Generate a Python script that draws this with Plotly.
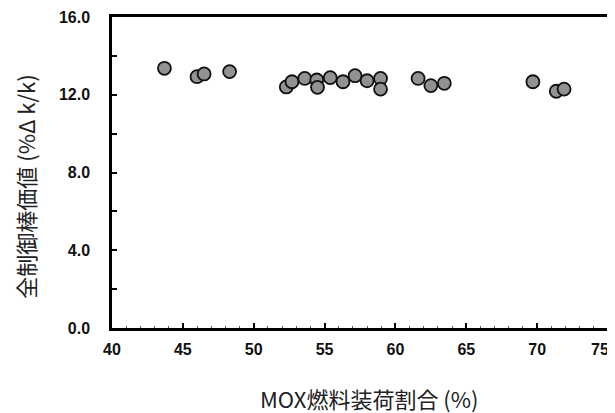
import plotly.graph_objects as go

mox_ratio = [43.7, 46.0, 46.5, 48.3, 52.3, 52.7, 53.6, 54.45, 54.5, 55.4, 56.3, 57.15,
             58.0, 58.95, 58.95, 61.6, 62.5, 63.45, 69.7, 71.35, 71.9]
rod_worth = [13.36, 12.93, 13.07, 13.19, 12.40, 12.67, 12.84, 12.76, 12.38, 12.88, 12.67, 12.98,
             12.72, 12.84, 12.29, 12.84, 12.47, 12.59, 12.67, 12.18, 12.29]

x_ticks = [40, 45, 50, 55, 60, 65, 70, 75]
y_ticks = [0, 4, 8, 12, 16]
y_tick_labels = ["0.0", "4.0", "8.0", "12.0", "16.0"]
x_title = "MOX燃料装荷割合 (%)"
y_title = "全制御棒価値 (%Δ k/k)"

fig = go.Figure()
fig.add_trace(go.Scatter(
    x=mox_ratio, y=rod_worth, mode="markers",
    marker=dict(size=13, color="#929292", line=dict(color="#111111", width=1.8)),
    showlegend=False,
))

tick_font = dict(family="Liberation Sans", size=16, color="#111111", weight="bold")
title_font = dict(family="Noto Sans CJK JP", size=22, color="#222222")

# last x tick label sits at the right edge; draw it shifted slightly left so it stays visible
x_ticktext = [str(v) for v in x_ticks[:-1]] + [""]

fig.update_layout(
    width=607, height=405,
    margin=dict(l=104, r=7, t=9, b=85),
    paper_bgcolor="white", plot_bgcolor="white",
    xaxis=dict(
        range=[40, 75], tickvals=x_ticks, ticktext=x_ticktext,
        ticks="inside", ticklen=5, tickwidth=2, tickcolor="black",
        minor=dict(dtick=1, ticks="inside", ticklen=2, tickwidth=1, tickcolor="#555"),
        showline=True, linecolor="black", linewidth=2.5, mirror=True,
        showgrid=False, zeroline=False, tickfont=tick_font, automargin=False,
        ticklabelstandoff=5,
    ),
    yaxis=dict(
        range=[0, 16], tickvals=y_ticks, ticktext=y_tick_labels,
        ticks="inside", ticklen=5, tickwidth=2, tickcolor="black",
        minor=dict(dtick=2, ticks="inside", ticklen=5, tickwidth=2, tickcolor="black"),
        showline=True, linecolor="black", linewidth=2.5, mirror=True,
        showgrid=False, zeroline=False, tickfont=tick_font, automargin=False,
        ticklabelstandoff=16,
    ),
    annotations=[
        dict(text=str(x_ticks[-1]), xref="x", yref="paper", x=x_ticks[-1], y=-0.068,
             xanchor="right", yanchor="middle", showarrow=False, font=tick_font,
             xshift=2, borderpad=0),
        dict(text=x_title, xref="paper", yref="paper", x=0.518, y=-0.225,
             xanchor="center", yanchor="middle", showarrow=False, font=title_font,
             borderpad=0),
        dict(text=y_title, xref="paper", yref="paper", x=-0.175, y=0.455,
             xanchor="center", yanchor="middle", showarrow=False, font=title_font,
             textangle=-90, borderpad=0),
    ],
)

fig.write_html("out.html")
